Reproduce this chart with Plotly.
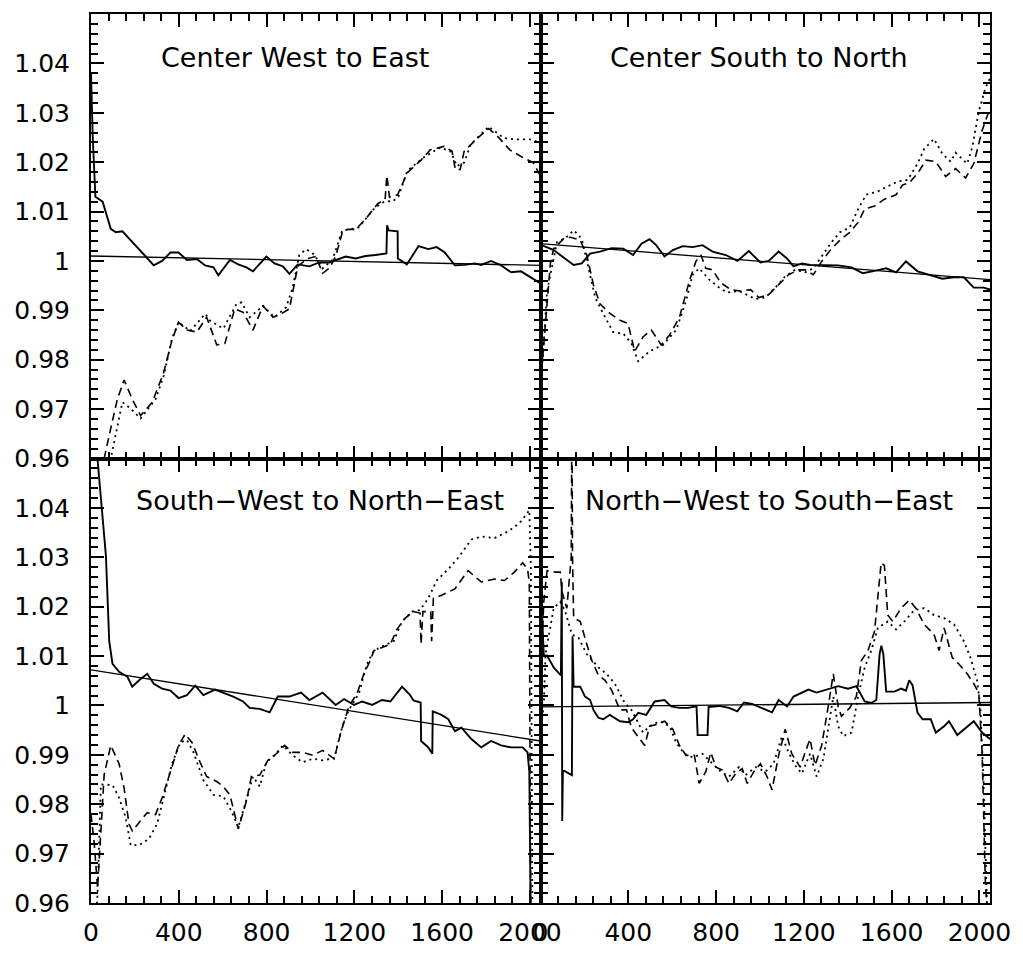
import plotly.graph_objects as go
from plotly.subplots import make_subplots

# ---------------- data ----------------
panel_titles = ["Center West to East", "Center South to North",
                "South\u2212West to North\u2212East", "North\u2212West to South\u2212East"]

x_ticks = [0, 400, 800, 1200, 1600, 2000]
x_tick_labels = ["0", "400", "800", "1200", "1600", "2000"]
y_ticks = [0.96, 0.97, 0.98, 0.99, 1.00, 1.01, 1.02, 1.03, 1.04]
y_tick_labels = ["0.96", "0.97", "0.98", "0.99", "1", "1.01", "1.02", "1.03", "1.04"]

fit_x = [0, 2048]

# Panel 1: Center West to East
p1_solid_x = [0, 8, 20, 53, 90, 113, 143, 203, 249, 286, 324, 362, 399, 437, 482, 520, 558, 580, 633, 671, 708, 738, 799, 836, 874, 904, 942, 995, 1040, 1085, 1115, 1160, 1206, 1251, 1296, 1346, 1349, 1356, 1397, 1398, 1439, 1492, 1537, 1575, 1612, 1658, 1703, 1748, 1778, 1823, 1869, 1914, 1959, 2004, 2042]
p1_solid_y = [1.038, 1.025, 1.013, 1.012, 1.0065, 1.0058, 1.006, 1.0032, 1.0009, 0.9991, 1.0, 1.0017, 1.0017, 1.0002, 1.0004, 0.9991, 0.9987, 0.9971, 1.0002, 0.9993, 0.9987, 0.9979, 1.0009, 0.9995, 0.9989, 0.9974, 0.9993, 0.9989, 0.9997, 0.9997, 1.0002, 1.0009, 1.0005, 1.001, 1.0012, 1.0015, 1.0072, 1.0062, 1.006, 1.0005, 0.9993, 1.003, 1.0024, 1.0028, 1.0017, 0.9991, 0.9992, 0.9995, 0.9992, 1.0, 0.9991, 0.9977, 0.9979, 0.9966, 0.9956]
p1_dash_x = [20, 60, 90, 120, 151, 188, 226, 279, 331, 369, 399, 437, 482, 527, 573, 610, 655, 693, 738, 784, 829, 867, 904, 942, 987, 1025, 1055, 1085, 1115, 1145, 1171, 1207, 1251, 1307, 1340, 1348, 1360, 1397, 1442, 1501, 1546, 1609, 1645, 1660, 1682, 1700, 1759, 1812, 1849, 1908, 1969, 2015, 2044]
p1_dash_y = [0.955, 0.96, 0.9661, 0.972, 0.9759, 0.972, 0.9687, 0.9714, 0.9774, 0.984, 0.9876, 0.986, 0.9856, 0.9886, 0.983, 0.9833, 0.9903, 0.9896, 0.986, 0.9909, 0.9886, 0.9893, 0.9903, 0.9989, 1.0005, 1.0009, 0.9975, 0.9985, 1.0009, 1.0058, 1.0064, 1.0064, 1.0085, 1.0116, 1.0125, 1.0173, 1.0129, 1.0134, 1.0179, 1.0203, 1.0225, 1.0232, 1.0222, 1.0185, 1.0185, 1.0222, 1.0248, 1.0268, 1.0254, 1.0225, 1.0209, 1.0199, 1.0175]
p1_dot_x = [50, 90, 143, 181, 226, 294, 331, 369, 399, 452, 520, 543, 603, 663, 686, 723, 784, 836, 889, 919, 949, 980, 1017, 1055, 1100, 1145, 1190, 1221, 1251, 1288, 1326, 1356, 1373, 1400, 1442, 1517, 1592, 1640, 1667, 1700, 1730, 1812, 1880, 1940, 2000, 2044]
p1_dot_y = [0.955, 0.96, 0.9714, 0.9701, 0.9681, 0.972, 0.9767, 0.9843, 0.9876, 0.9858, 0.9893, 0.9879, 0.9863, 0.9913, 0.9916, 0.9886, 0.9909, 0.9886, 0.9906, 0.9946, 1.0012, 1.0024, 1.0013, 0.9985, 1.0002, 1.0062, 1.0065, 1.0068, 1.0085, 1.0105, 1.0118, 1.0121, 1.012, 1.013, 1.0183, 1.021, 1.023, 1.0221, 1.0192, 1.0199, 1.0236, 1.0272, 1.0249, 1.0246, 1.0246, 1.024]
p1_fit_y = [1.001, 0.9991]

# Panel 2: Center South to North
p2_solid_x = [0, 60, 105, 151, 188, 226, 271, 324, 377, 422, 460, 497, 527, 565, 603, 648, 693, 738, 784, 844, 897, 949, 1002, 1040, 1085, 1123, 1153, 1191, 1228, 1281, 1356, 1417, 1469, 1522, 1575, 1620, 1665, 1718, 1756, 1801, 1831, 1884, 1929, 1974, 2019, 2048]
p2_solid_y = [1.0033, 1.0022, 1.0007, 0.9992, 0.9995, 1.0015, 1.0019, 1.0026, 1.0025, 1.0012, 1.0035, 1.0044, 1.0032, 1.0009, 1.0022, 1.003, 1.0028, 1.0032, 1.0019, 1.0012, 1.0, 1.002, 0.9997, 1.0, 1.0019, 1.0005, 0.9989, 0.9995, 0.9992, 0.9992, 0.9991, 0.9987, 0.9975, 0.998, 0.9985, 0.9977, 0.9999, 0.9979, 0.9974, 0.9967, 0.9964, 0.9967, 0.9967, 0.9946, 0.9946, 0.9942]
p2_dash_x = [0, 20, 45, 60, 105, 136, 181, 211, 241, 271, 316, 362, 399, 429, 467, 505, 550, 588, 633, 678, 708, 731, 753, 784, 821, 867, 912, 957, 995, 1040, 1085, 1130, 1175, 1206, 1243, 1281, 1326, 1371, 1409, 1447, 1477, 1522, 1567, 1620, 1650, 1680, 1718, 1756, 1801, 1846, 1891, 1937, 1974, 2012, 2048]
p2_dash_y = [0.975, 0.986, 0.9995, 1.0025, 1.0045, 1.0048, 1.0042, 1.0012, 0.9952, 0.9913, 0.9894, 0.988, 0.9873, 0.9817, 0.9846, 0.986, 0.983, 0.985, 0.9886, 0.9959, 0.9999, 1.0012, 0.9985, 0.9982, 0.9956, 0.9942, 0.9939, 0.9942, 0.9926, 0.9932, 0.9952, 0.9972, 0.9982, 0.9982, 0.9972, 0.9999, 1.0025, 1.0045, 1.0058, 1.0078, 1.0105, 1.0111, 1.0125, 1.0134, 1.0154, 1.0158, 1.0177, 1.0204, 1.0201, 1.0171, 1.0187, 1.0168, 1.0197, 1.0264, 1.031]
p2_dot_x = [0, 30, 75, 113, 151, 188, 219, 249, 286, 331, 377, 414, 445, 497, 558, 618, 663, 693, 723, 769, 814, 851, 904, 980, 1025, 1070, 1115, 1160, 1206, 1243, 1281, 1326, 1364, 1409, 1447, 1484, 1537, 1582, 1628, 1673, 1718, 1748, 1793, 1831, 1869, 1891, 1944, 1967, 1997, 2027, 2048]
p2_dot_y = [0.9734, 0.9939, 1.0038, 1.0046, 1.0062, 1.0045, 0.9985, 0.9926, 0.9893, 0.9856, 0.9853, 0.9833, 0.9797, 0.9817, 0.983, 0.986, 0.9919, 0.9972, 0.9985, 0.9962, 0.9946, 0.9936, 0.9939, 0.9923, 0.9926, 0.9946, 0.9969, 0.9982, 0.9977, 0.9985, 1.0009, 1.0038, 1.0058, 1.0068, 1.0105, 1.0134, 1.0141, 1.0151, 1.0161, 1.0164, 1.0197, 1.0227, 1.0247, 1.0217, 1.0201, 1.0219, 1.0197, 1.023, 1.0303, 1.035, 1.037]
p2_fit_y = [1.0035, 0.9962]

# Panel 3: South-West to North-East
p3_solid_x = [0, 30, 68, 83, 98, 128, 166, 188, 219, 256, 286, 324, 362, 399, 437, 475, 512, 565, 603, 648, 693, 723, 769, 814, 851, 904, 957, 995, 1055, 1115, 1153, 1198, 1236, 1281, 1326, 1364, 1417, 1454, 1469, 1502, 1504, 1537, 1555, 1557, 1597, 1628, 1658, 1688, 1733, 1778, 1823, 1869, 1914, 1967, 1989, 1997, 2004]
p3_solid_y = [1.065, 1.05, 1.0303, 1.013, 1.0084, 1.0068, 1.0058, 1.0038, 1.0051, 1.0064, 1.0044, 1.0034, 1.003, 1.0015, 1.0021, 1.004, 1.0021, 1.0032, 1.0025, 1.0018, 1.0008, 0.9995, 0.9993, 0.9986, 1.0018, 1.0018, 1.0026, 1.0011, 1.0026, 1.0001, 1.0013, 1.0001, 1.0008, 1.0001, 1.0011, 1.0008, 1.0038, 1.0021, 1.001, 1.0006, 0.9928, 0.9915, 0.9902, 0.9988, 0.9981, 0.9972, 0.9948, 0.9955, 0.9932, 0.9915, 0.9928, 0.9919, 0.9915, 0.9915, 0.9905, 0.9866, 0.955]
p3_dash_x = [0, 15, 30, 45, 60, 90, 128, 151, 173, 188, 219, 256, 294, 324, 362, 399, 429, 460, 497, 527, 573, 603, 633, 671, 708, 731, 769, 806, 844, 882, 919, 964, 1010, 1055, 1108, 1138, 1175, 1213, 1243, 1273, 1289, 1326, 1364, 1394, 1432, 1469, 1499, 1504, 1512, 1548, 1552, 1560, 1597, 1658, 1718, 1778, 1839, 1884, 1929, 1967, 1989, 1997, 2004]
p3_dash_y = [0.978, 0.972, 0.963, 0.975, 0.986, 0.9919, 0.9882, 0.9832, 0.976, 0.9746, 0.9763, 0.9783, 0.9779, 0.9813, 0.9866, 0.9919, 0.9942, 0.9925, 0.9885, 0.9856, 0.9846, 0.9836, 0.9819, 0.975, 0.9806, 0.9856, 0.9859, 0.9889, 0.9902, 0.9919, 0.9905, 0.9905, 0.9899, 0.9909, 0.9892, 0.9945, 0.9998, 1.0025, 1.0064, 1.0091, 1.0111, 1.0117, 1.0124, 1.0154, 1.0177, 1.019, 1.0187, 1.0124, 1.019, 1.019, 1.013, 1.0217, 1.0223, 1.0236, 1.0273, 1.025, 1.0256, 1.0253, 1.027, 1.0289, 1.0276, 1.025, 0.95]
p3_dot_x = [20, 30, 45, 68, 98, 128, 158, 181, 219, 264, 301, 331, 369, 407, 437, 467, 512, 558, 603, 640, 671, 708, 738, 769, 799, 836, 874, 919, 964, 1010, 1055, 1108, 1145, 1175, 1221, 1258, 1289, 1334, 1379, 1417, 1462, 1499, 1537, 1575, 1628, 1673, 1733, 1778, 1839, 1899, 1952, 1997, 2004, 2012]
p3_dot_y = [0.955, 0.962, 0.984, 0.9839, 0.9839, 0.9813, 0.9773, 0.9717, 0.9717, 0.973, 0.976, 0.9813, 0.9882, 0.9925, 0.993, 0.9905, 0.9849, 0.9819, 0.9816, 0.9786, 0.9753, 0.9809, 0.9856, 0.9836, 0.9885, 0.9899, 0.9919, 0.9899, 0.9885, 0.9892, 0.9889, 0.9893, 0.9958, 0.9991, 1.0025, 1.0084, 1.0111, 1.0121, 1.013, 1.017, 1.019, 1.0193, 1.0217, 1.0253, 1.0276, 1.0299, 1.0336, 1.0342, 1.0339, 1.0352, 1.0369, 1.0395, 1.028, 0.95]
p3_fit_y = [1.0072, 0.9928]

# Panel 4: North-West to South-East
p4_solid_x = [0, 15, 30, 60, 93, 97, 99, 102, 143, 146, 151, 181, 203, 226, 241, 264, 286, 316, 362, 399, 422, 445, 482, 520, 565, 595, 633, 671, 711, 716, 761, 766, 814, 859, 897, 927, 964, 1010, 1055, 1085, 1123, 1153, 1191, 1221, 1258, 1296, 1326, 1356, 1401, 1439, 1477, 1507, 1530, 1545, 1553, 1562, 1575, 1612, 1643, 1665, 1680, 1695, 1718, 1741, 1778, 1801, 1839, 1861, 1899, 1937, 1974, 2012, 2048]
p4_solid_y = [1.026, 1.0101, 1.0101, 1.0077, 1.0061, 1.025, 0.9766, 0.9869, 0.9859, 1.014, 1.0038, 1.0038, 1.0018, 1.0011, 0.9991, 0.9975, 0.9972, 0.9981, 0.9968, 0.9966, 0.9972, 0.9985, 0.9981, 1.0008, 1.0011, 0.9998, 0.9995, 0.9995, 0.9998, 0.994, 0.994, 0.9997, 0.9999, 0.9995, 0.9988, 1.0006, 1.0003, 0.9995, 0.9986, 1.0011, 0.9998, 1.0018, 1.0025, 1.0032, 1.0026, 1.0031, 1.0034, 1.0039, 1.0034, 1.0039, 1.0008, 1.0005, 1.0011, 1.0104, 1.0121, 1.0104, 1.0028, 1.0028, 1.0034, 1.003, 1.0051, 1.0041, 0.9985, 0.9972, 0.9972, 0.9945, 0.9958, 0.9968, 0.994, 0.9955, 0.9968, 0.9945, 0.9932]
p4_dash_x = [0, 15, 30, 68, 90, 98, 120, 140, 143, 146, 151, 181, 211, 234, 264, 294, 324, 362, 392, 414, 452, 475, 497, 535, 565, 603, 633, 663, 701, 723, 753, 776, 799, 829, 859, 889, 919, 942, 972, 1002, 1032, 1055, 1085, 1115, 1145, 1183, 1206, 1228, 1251, 1281, 1311, 1334, 1356, 1371, 1409, 1439, 1462, 1492, 1522, 1552, 1567, 1582, 1605, 1643, 1680, 1710, 1748, 1793, 1816, 1839, 1876, 1906, 1944, 1974, 1997, 2012, 2027, 2040]
p4_dash_y = [1.005, 1.021, 1.0273, 1.027, 1.027, 1.023, 1.0197, 1.03, 1.06, 1.03, 1.0177, 1.017, 1.0124, 1.0091, 1.0061, 1.0051, 1.0031, 0.9991, 0.9991, 0.9955, 0.9932, 0.9919, 0.9958, 0.9962, 0.9968, 0.9952, 0.9919, 0.9899, 0.9899, 0.9842, 0.9866, 0.9905, 0.9875, 0.9869, 0.9842, 0.9862, 0.9872, 0.9842, 0.9866, 0.9882, 0.9856, 0.9829, 0.9899, 0.9952, 0.9902, 0.9875, 0.9905, 0.9932, 0.9879, 0.9919, 0.9998, 1.0064, 0.9998, 0.9978, 0.9995, 1.0018, 1.0091, 1.0111, 1.015, 1.0289, 1.0283, 1.0183, 1.017, 1.0197, 1.0213, 1.0197, 1.0164, 1.0144, 1.0111, 1.0157, 1.0097, 1.0084, 1.0064, 1.0044, 1.0025, 0.9905, 0.964, 0.955]
p4_dot_x = [0, 15, 23, 38, 60, 90, 113, 143, 173, 211, 264, 301, 339, 384, 414, 445, 467, 497, 543, 588, 618, 656, 693, 738, 784, 821, 859, 904, 934, 980, 1025, 1062, 1100, 1130, 1160, 1191, 1228, 1258, 1289, 1311, 1334, 1356, 1379, 1417, 1447, 1477, 1507, 1537, 1582, 1620, 1658, 1703, 1748, 1793, 1839, 1884, 1929, 1959, 1989, 2004, 2019, 2034]
p4_dot_y = [0.995, 1.0, 1.0104, 1.014, 1.0197, 1.021, 1.019, 1.0144, 1.0137, 1.0104, 1.0077, 1.0064, 1.0044, 1.0005, 0.9991, 0.9965, 0.9945, 0.9958, 0.9968, 0.9958, 0.9925, 0.9902, 0.9895, 0.9902, 0.9882, 0.9866, 0.9856, 0.9875, 0.9859, 0.9875, 0.9866, 0.9882, 0.9938, 0.9905, 0.9879, 0.9862, 0.9902, 0.9856, 0.9892, 0.9958, 1.0018, 0.9958, 0.9938, 0.9945, 1.0018, 1.0077, 1.0111, 1.0157, 1.017, 1.0154, 1.017, 1.0193, 1.0197, 1.0183, 1.0177, 1.0164, 1.013, 1.0097, 1.0051, 0.9998, 0.9839, 0.96]
p4_fit_y = [0.9997, 1.0006]

panels = [
    (p1_solid_x, p1_solid_y, p1_dash_x, p1_dash_y, p1_dot_x, p1_dot_y, p1_fit_y),
    (p2_solid_x, p2_solid_y, p2_dash_x, p2_dash_y, p2_dot_x, p2_dot_y, p2_fit_y),
    (p3_solid_x, p3_solid_y, p3_dash_x, p3_dash_y, p3_dot_x, p3_dot_y, p3_fit_y),
    (p4_solid_x, p4_solid_y, p4_dash_x, p4_dash_y, p4_dot_x, p4_dot_y, p4_fit_y),
]

# ---------------- figure ----------------
fig = make_subplots(rows=2, cols=2, horizontal_spacing=0, vertical_spacing=0)

positions = [(1, 1), (1, 2), (2, 1), (2, 2)]
for (r, c), (sx, sy, dx, dy, ox, oy, fy) in zip(positions, panels):
    fig.add_trace(go.Scatter(x=dx, y=dy, mode="lines",
                             line=dict(color="black", width=1.6, dash="8px,5px")), row=r, col=c)
    fig.add_trace(go.Scatter(x=ox, y=oy, mode="lines",
                             line=dict(color="black", width=1.8, dash="2px,4px")), row=r, col=c)
    fig.add_trace(go.Scatter(x=fit_x, y=fy, mode="lines",
                             line=dict(color="black", width=1.3)), row=r, col=c)
    fig.add_trace(go.Scatter(x=sx, y=sy, mode="lines",
                             line=dict(color="black", width=1.9)), row=r, col=c)

tick_font = dict(family="DejaVu Sans", size=25, color="black")

for i, (r, c) in enumerate(positions):
    fig.update_xaxes(row=r, col=c, range=[0, 2048], tickvals=x_ticks, ticktext=x_tick_labels,
                     ticks="inside", ticklen=13, tickwidth=2, tickcolor="black",
                     mirror="allticks", showline=True, linewidth=2, linecolor="black",
                     showgrid=False, zeroline=False, tickfont=tick_font,
                     showticklabels=(r == 2), ticklabelstandoff=6,
                     minor=dict(dtick=80, tick0=0, ticklen=7, tickwidth=2,
                                tickcolor="black", ticks="inside", showgrid=False))
    fig.update_yaxes(row=r, col=c, range=[0.96, 1.05], tickvals=y_ticks, ticktext=y_tick_labels,
                     ticks="inside", ticklen=13, tickwidth=2, tickcolor="black",
                     mirror="allticks", showline=True, linewidth=2, linecolor="black",
                     showgrid=False, zeroline=False, tickfont=tick_font,
                     showticklabels=(c == 1), ticklabelstandoff=14,
                     minor=dict(dtick=0.002, tick0=0.96, ticklen=7, tickwidth=2,
                                tickcolor="black", ticks="inside", showgrid=False))

title_pos = [(0.453, 0.903), (0.485, 0.903), (0.509, 0.906), (0.509, 0.906)]
axis_refs = [("x", "y"), ("x2", "y2"), ("x3", "y3"), ("x4", "y4")]
for title, (ax, ay), (xr, yr) in zip(panel_titles, title_pos, axis_refs):
    fig.add_annotation(text=title, x=ax, y=ay, xref=xr + " domain", yref=yr + " domain",
                       showarrow=False, xanchor="center", yanchor="middle",
                       font=dict(family="DejaVu Sans", size=27, color="black"))

fig.update_layout(width=1023, height=959, showlegend=False,
                  margin=dict(l=91, r=25, t=13, b=38),
                  paper_bgcolor="white", plot_bgcolor="white")

fig.write_html("out.html", config={"displayModeBar": False},
               post_script="document.body.style.margin='0';")
